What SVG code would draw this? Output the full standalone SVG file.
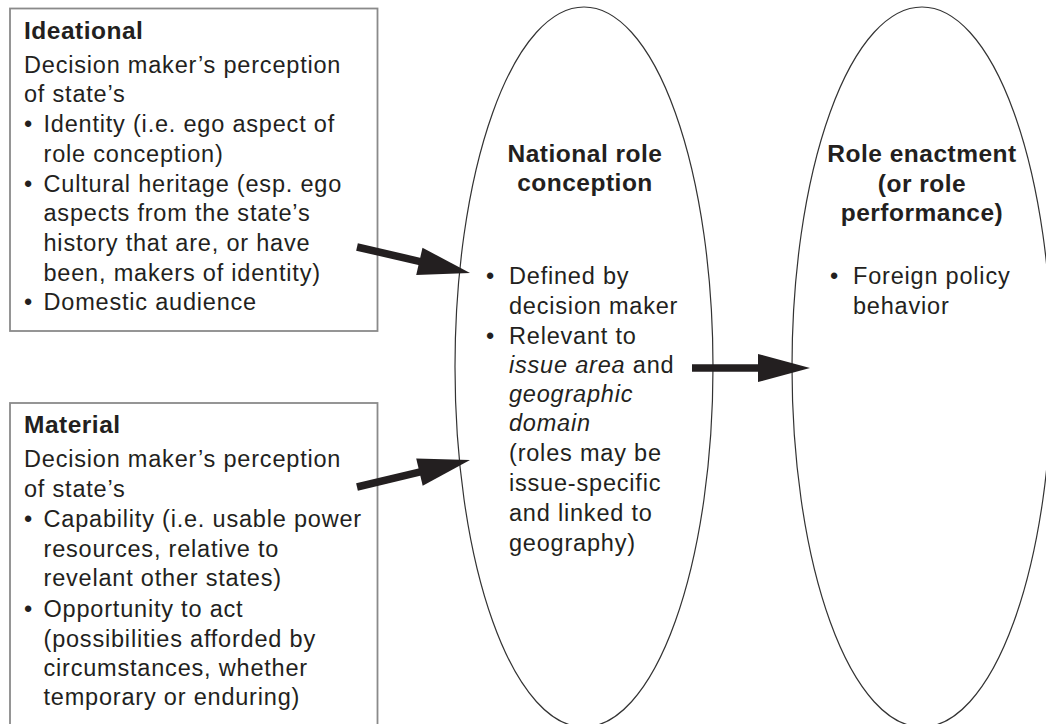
<svg xmlns="http://www.w3.org/2000/svg" width="1046" height="724" viewBox="0 0 1046 724">
<style>
text{font-family:"Liberation Sans",Arial,Helvetica,sans-serif;fill:#231f20}
.t{font-size:23.5px;letter-spacing:0.8px}
.b{font-size:24.5px;font-weight:bold;letter-spacing:0.5px}
.i{font-style:italic}
.c{text-anchor:middle}
.box{fill:#fff;stroke:#8a8a8a;stroke-width:1.8}
.ell{fill:none;stroke:#333;stroke-width:1.2}
.arr{stroke:#231f20;stroke-width:7.5;fill:none}
</style>
<defs>
<marker id="ah" markerUnits="userSpaceOnUse" markerWidth="54" markerHeight="30" refX="2" refY="14" orient="auto" overflow="visible">
<path d="M0,0 L52,14 L0,28 Z" fill="#231f20"/>
</marker>
</defs>
<rect width="1046" height="724" fill="#fff"/>

<g id="ideational">
<rect class="box" x="10" y="8.5" width="367.5" height="322.5"/>
<text class="b" x="24" y="39">Ideational</text>
<text class="t" x="24" y="73">Decision maker’s perception</text>
<text class="t" x="24" y="102">of state’s</text>
<text class="t" x="24" y="132">•</text><text class="t" x="43.5" y="132">Identity (i.e. ego aspect of</text>
<text class="t" x="43.5" y="162">role conception)</text>
<text class="t" x="24" y="192">•</text><text class="t" x="43.5" y="192">Cultural heritage (esp. ego</text>
<text class="t" x="43.5" y="221">aspects from the state’s</text>
<text class="t" x="43.5" y="251">history that are, or have</text>
<text class="t" x="43.5" y="281">been, makers of identity)</text>
<text class="t" x="24" y="310">•</text><text class="t" x="43.5" y="310">Domestic audience</text>
</g>

<g id="material">
<rect class="box" x="10" y="403" width="367.5" height="330"/>
<text class="b" x="24" y="433">Material</text>
<text class="t" x="24" y="467">Decision maker’s perception</text>
<text class="t" x="24" y="497">of state’s</text>
<text class="t" x="24" y="527">•</text><text class="t" x="43.5" y="527">Capability (i.e. usable power</text>
<text class="t" x="43.5" y="557">resources, relative to</text>
<text class="t" x="43.5" y="586">revelant other states)</text>
<text class="t" x="24" y="617">•</text><text class="t" x="43.5" y="617">Opportunity to act</text>
<text class="t" x="43.5" y="647">(possibilities afforded by</text>
<text class="t" x="43.5" y="676">circumstances, whether</text>
<text class="t" x="43.5" y="705">temporary or enduring)</text>
</g>

<g id="national-role-conception">
<ellipse class="ell" cx="584" cy="367" rx="129" ry="360"/>
<text class="b c" x="585" y="162">National role</text>
<text class="b c" x="585" y="191">conception</text>
<text class="t" x="486" y="284">•</text><text class="t" x="509" y="284">Defined by</text>
<text class="t" x="509" y="314">decision maker</text>
<text class="t" x="486" y="344">•</text><text class="t" x="509" y="344">Relevant to</text>
<text class="t" x="509" y="373"><tspan class="i">issue area</tspan> and</text>
<text class="t i" x="509" y="402">geographic</text>
<text class="t i" x="509" y="431">domain</text>
<text class="t" x="509" y="461">(roles may be</text>
<text class="t" x="509" y="491">issue-specific</text>
<text class="t" x="509" y="521">and linked to</text>
<text class="t" x="509" y="551">geography)</text>
</g>

<g id="role-enactment">
<ellipse class="ell" cx="922" cy="367" rx="130" ry="360"/>
<text class="b c" x="922" y="162">Role enactment</text>
<text class="b c" x="922" y="192">(or role</text>
<text class="b c" x="922" y="221">performance)</text>
<text class="t" x="830" y="284">•</text><text class="t" x="853" y="284">Foreign policy</text>
<text class="t" x="853" y="314">behavior</text>
</g>

<g id="connectors">
<line class="arr" x1="357" y1="247" x2="421.3" y2="261.8" marker-end="url(#ah)"/>
<line class="arr" x1="357" y1="487" x2="421.4" y2="471.6" marker-end="url(#ah)"/>
<line class="arr" x1="692" y1="368" x2="760" y2="368" marker-end="url(#ah)"/>
</g>
</svg>
